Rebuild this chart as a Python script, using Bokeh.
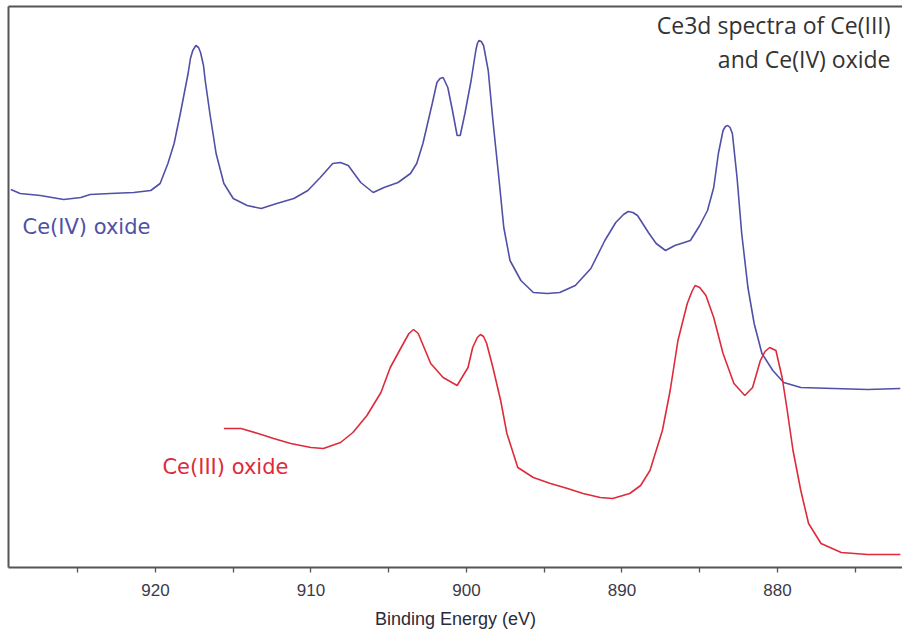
from bokeh.plotting import figure
from bokeh.models import Range1d, FixedTicker, LinearAxis, Label
from bokeh.embed import file_html
from bokeh.resources import INLINE

# Ce(IV) oxide spectrum: binding energy (eV) and intensity (arb. units)
ce4_energy = [929.3, 928.7, 927.4, 925.9, 924.8, 924.2, 922.9, 921.4, 920.3, 919.7,
              919.2, 918.8, 918.4, 917.9, 917.75, 917.6, 917.4, 917.23, 917.1, 916.91,
              916.8, 916.5, 916.1,
              915.6, 915.0, 914.1, 913.2, 912.2, 911.1, 910.2, 909.4, 908.6, 908.1,
              907.6, 906.8, 906.0, 905.3, 904.4, 903.6, 903.2, 902.8, 902.2, 901.9,
              901.7, 901.5, 901.2, 900.9, 900.6, 900.4, 900.1, 899.7, 899.4, 899.3,
              899.2, 899.05, 898.9,
              898.6, 898.3, 897.9, 897.6, 897.2, 896.5, 895.7, 894.8, 894.0, 893.0,
              892.0, 891.1, 890.4, 889.9, 889.6, 889.3, 889.0, 888.3, 887.8, 887.2,
              886.6, 885.6, 885.0, 884.5, 884.1, 883.8, 883.5, 883.35, 883.2, 883.05,
              882.9, 882.6, 882.3, 881.9,
              881.5, 881.0, 880.3, 879.6, 878.5, 876.4, 874.2, 872.1]
ce4_intensity = [378, 374, 372, 368, 370, 373, 374, 375, 377, 384,
                 404, 424, 454, 494, 509, 517, 522, 520, 515, 502,
                 487, 454, 414,
                 384, 369, 362, 359, 364, 369, 377, 390, 404, 405,
                 402, 385, 375, 380, 385, 394, 404, 424, 464, 485,
                 489, 490, 480, 457, 432, 432, 454, 487, 517, 524,
                 527, 526, 522,
                 497, 447, 387, 340, 307, 287, 275, 274, 275, 282,
                 299, 327, 345, 353, 356, 355, 352, 335, 324, 317,
                 322, 327, 342, 357, 380, 414, 437, 441, 442, 440,
                 434, 390, 334, 280,
                 244, 214, 197, 185, 180, 179, 178, 179]

# Ce(III) oxide spectrum
ce3_energy = [915.6, 914.5, 913.4, 912.4, 911.3, 910.0, 909.2, 908.1, 907.3, 906.4,
              905.5, 904.9, 904.2, 903.7, 903.4, 903.1, 902.3, 901.5, 900.6, 899.9,
              899.6, 899.3, 899.1, 898.9, 898.7, 898.3, 897.8, 897.4, 896.7, 895.7,
              894.6, 893.5,
              892.5, 891.4, 890.6, 889.5, 888.8, 888.2, 887.4, 886.9, 886.4, 885.8,
              885.5, 885.3, 885.0, 884.6, 884.1, 883.5, 882.8, 882.1, 881.6, 881.1,
              880.8, 880.5, 880.1, 879.7, 879.4, 879.0, 878.5, 878.0, 877.2, 875.9,
              874.2, 872.1]
ce3_intensity = [139, 139, 134, 129, 124, 120, 119, 125, 135, 152,
                 175, 200, 220, 234, 238, 234, 204, 190, 182, 200,
                 220, 230, 233, 231, 224, 200, 167, 134, 100, 90,
                 84, 79,
                 74, 70, 69, 74, 82, 97, 137, 177, 227, 264,
                 276, 282, 280, 272, 250, 214, 184, 172, 180, 207,
                 216, 220, 217, 190, 160, 117, 77, 44, 24, 15,
                 13, 13]

major_ticks = [920, 910, 900, 890, 880]
minor_ticks = [925, 915, 905, 895, 885, 875]

title_lines = ["Ce3d spectra of Ce(III)", "and Ce(IV) oxide"]
x_label = "Binding Energy (eV)"

BLUE = "#5050A6"
RED = "#DD2B3B"
AXIS = "#555555"

p = figure(width=902, height=633, output_backend="svg", toolbar_location=None,
           x_range=Range1d(929.45, 871.96), y_range=Range1d(0, 561),
           x_axis_type=None, y_axis_type=None,
           min_border_left=8, min_border_right=0, min_border_top=6, min_border_bottom=66)
p.outline_line_color = None
p.xgrid.visible = False
p.ygrid.visible = False
p.background_fill_color = "white"
p.border_fill_color = "white"

xa = LinearAxis(ticker=FixedTicker(ticks=major_ticks, minor_ticks=minor_ticks))
xa.axis_line_color = AXIS
xa.axis_line_width = 2
xa.major_tick_line_color = AXIS
xa.minor_tick_line_color = AXIS
xa.major_tick_in = 0
xa.major_tick_out = 5
xa.minor_tick_in = 0
xa.minor_tick_out = 5
xa.major_tick_line_width = 1.3
xa.minor_tick_line_width = 1.3
xa.major_label_text_font = "Liberation Sans"
xa.major_label_text_font_size = "17px"
xa.major_label_text_color = "#3a3a4a"
xa.major_label_standoff = 11
xa.axis_label = x_label
xa.axis_label_text_font = "Liberation Sans"
xa.axis_label_text_font_style = "normal"
xa.axis_label_text_font_size = "18px"
xa.axis_label_text_color = "#2a2a3a"
xa.axis_label_standoff = 10
p.add_layout(xa, "below")

ya = LinearAxis(ticker=FixedTicker(ticks=[]))
ya.axis_line_color = AXIS
ya.axis_line_width = 2
ya.major_tick_line_color = None
ya.minor_tick_line_color = None
ya.major_label_text_font_size = "0px"
ya.major_label_standoff = 0
p.add_layout(ya, "left")

ta = LinearAxis(ticker=FixedTicker(ticks=[]))
ta.axis_line_color = AXIS
ta.axis_line_width = 2
ta.major_tick_line_color = None
ta.minor_tick_line_color = None
ta.major_label_text_font_size = "0px"
ta.major_label_standoff = 0
p.add_layout(ta, "above")

p.line(ce4_energy, ce4_intensity, line_color=BLUE, line_width=1.6)
p.line(ce3_energy, ce3_intensity, line_color=RED, line_width=1.6)

p.add_layout(Label(x=872.73, y=543, text=title_lines[0],
                   text_align="right", text_baseline="middle", text_font="Open Sans",
                   text_font_size="23px", text_color="#333333"))
p.add_layout(Label(x=872.73, y=509, text=title_lines[1],
                   text_align="right", text_baseline="middle", text_font="Open Sans",
                   text_font_size="23px", text_color="#333333"))
p.add_layout(Label(x=928.55, y=341, text="Ce(IV) oxide", text_baseline="middle",
                   text_font="DejaVu Sans", text_font_size="21px", text_color=BLUE))
p.add_layout(Label(x=919.55, y=101, text="Ce(III) oxide", text_baseline="middle",
                   text_font="DejaVu Sans", text_font_size="21px", text_color=RED))

open("out.html", "w").write(file_html(p, INLINE))
